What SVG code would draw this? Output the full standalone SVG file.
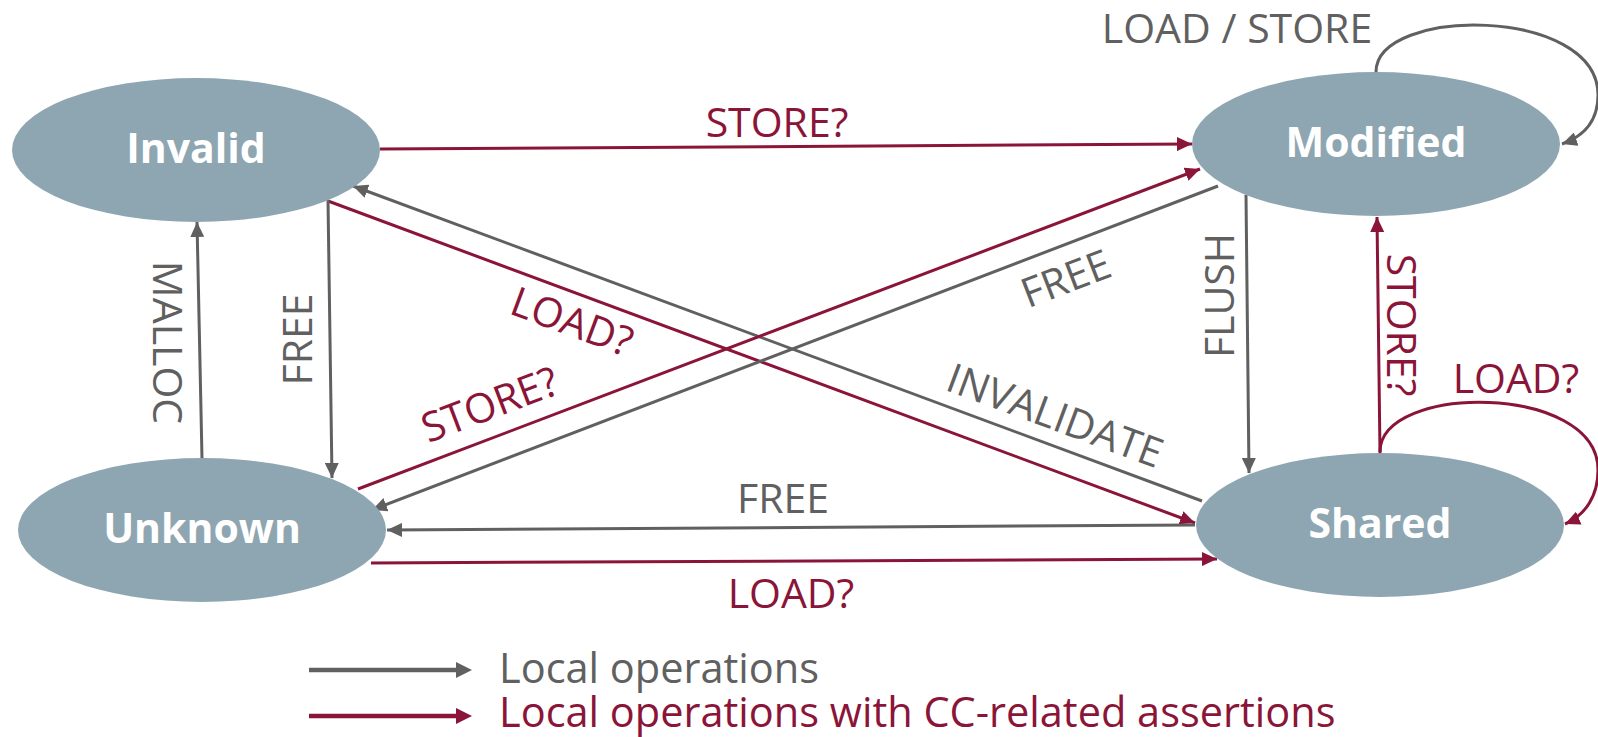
<svg xmlns="http://www.w3.org/2000/svg" width="1598" height="737" viewBox="0 0 1598 737">
<style>
.node ellipse{fill:#8ea6b1}
.node text{font-family:"Open Sans","Noto Sans",sans-serif;font-weight:700;font-size:41px;fill:#ffffff;text-anchor:middle}
.g{stroke:#606060;stroke-width:3;fill:none}
.r{stroke:#8a1538;stroke-width:3;fill:none}
.lbl{font-family:"Open Sans","Noto Sans",sans-serif;font-size:41px;text-anchor:middle}
.lg{fill:#606060}
.lr{fill:#8a1538}
.leg{font-family:"Open Sans","Noto Sans",sans-serif;font-size:41.5px}
</style>
<defs>
<marker id="ag" markerUnits="userSpaceOnUse" markerWidth="16" markerHeight="14" refX="15" refY="7" orient="auto"><path d="M0,0 L15,7 L0,14 z" fill="#606060"/></marker>
<marker id="ar" markerUnits="userSpaceOnUse" markerWidth="16" markerHeight="14" refX="15" refY="7" orient="auto"><path d="M0,0 L15,7 L0,14 z" fill="#8a1538"/></marker>
</defs>
<rect width="1598" height="737" fill="#ffffff"/>
<g id="connectors">
<path class="r" d="M380,149 L1192,144" marker-end="url(#ar)"/>
<path class="g" d="M1202,501 L353,186" marker-end="url(#ag)"/>
<path class="r" d="M328,201 L1195,523" marker-end="url(#ar)"/>
<path class="g" d="M328,200 L332,478" marker-end="url(#ag)"/>
<path class="g" d="M202,458 L197,222" marker-end="url(#ag)"/>
<path class="r" d="M358,489 L1200,169" marker-end="url(#ar)"/>
<path class="g" d="M1218,186 L372,510" marker-end="url(#ag)"/>
<path class="g" d="M1246,195 L1249,473" marker-end="url(#ag)"/>
<path class="r" d="M1380,453 L1377,217" marker-end="url(#ar)"/>
<path class="g" d="M1195,525 L387,530" marker-end="url(#ag)"/>
<path class="r" d="M371,563 L1217,559" marker-end="url(#ar)"/>
<path class="g" d="M1376,72 C1376,6 1598,6 1598,95 C1598,120 1585,136 1562,144" marker-end="url(#ag)"/>
<path class="r" d="M1380,452 C1380,383 1598,383 1598,470 C1598,495 1586,515 1565,524" marker-end="url(#ar)"/>
<text class="lbl lr" x="777" y="137">STORE?</text>
<text class="lbl lg" x="1237" y="43">LOAD / STORE</text>
<text class="lbl lg" transform="translate(1050,429) rotate(20.4)">INVALIDATE</text>
<text class="lbl lr" transform="translate(567,335) rotate(20.4)">LOAD?</text>
<text class="lbl lr" transform="translate(495,418) rotate(-20.8)">STORE?</text>
<text class="lbl lg" transform="translate(1071,292) rotate(-21)">FREE</text>
<text class="lbl lg" transform="translate(1234,295.5) rotate(-90)">FLUSH</text>
<text class="lbl lr" transform="translate(1387,325) rotate(90)">STORE?</text>
<text class="lbl lr" x="1516" y="393">LOAD?</text>
<text class="lbl lg" transform="translate(153,342.5) rotate(90)">MALLOC</text>
<text class="lbl lg" transform="translate(312,339.5) rotate(-90)">FREE</text>
<text class="lbl lg" x="783" y="513">FREE</text>
<text class="lbl lr" x="791" y="608">LOAD?</text>
</g>
<g id="invalid" class="node"><ellipse cx="196" cy="150" rx="184" ry="72"/><text x="196" y="163">Invalid</text></g>
<g id="modified" class="node"><ellipse cx="1376" cy="144" rx="184" ry="72"/><text x="1376" y="157">Modified</text></g>
<g id="shared" class="node"><ellipse cx="1380" cy="525" rx="184" ry="72"/><text x="1380" y="538">Shared</text></g>
<g id="unknown" class="node"><ellipse cx="202" cy="530" rx="184" ry="72"/><text x="202" y="543">Unknown</text></g>
<g id="legend">
<path d="M309,670 L458,670" stroke="#606060" stroke-width="4.5" fill="none"/>
<path d="M456,662 L472,670 L456,678 z" fill="#606060"/>
<path d="M309,716 L458,716" stroke="#8a1538" stroke-width="4.5" fill="none"/>
<path d="M456,708 L472,716 L456,724 z" fill="#8a1538"/>
<text class="leg lg" x="499" y="683">Local operations</text>
<text class="leg lr" x="499" y="727">Local operations with CC-related assertions</text>
</g>
</svg>
